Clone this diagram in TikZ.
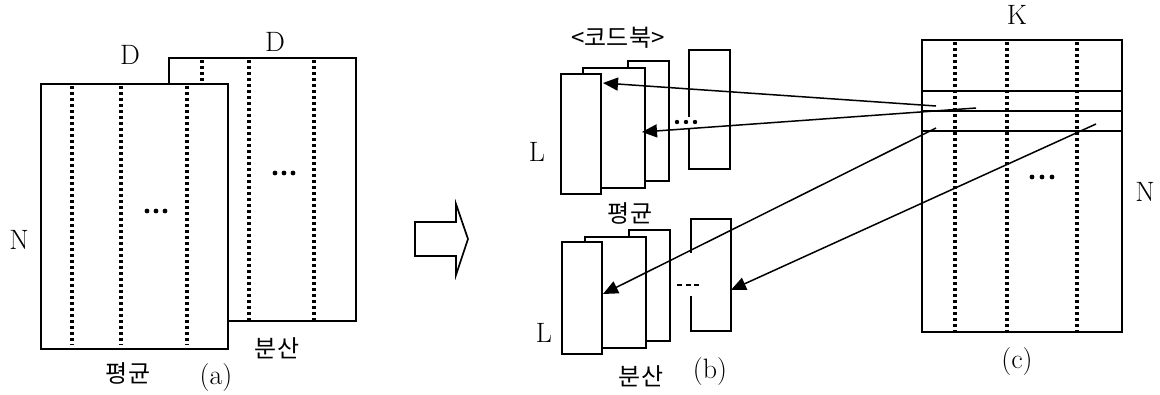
\documentclass[tikz,border=0pt]{standalone}
\usepackage{fontspec}
\newfontfamily\kr{Noto Sans CJK KR}
\usetikzlibrary{arrows.meta}
\tikzset{
  box/.style={draw, fill=white, line width=1.7pt, inner sep=0pt, outer sep=0pt, anchor=north west},
  dotline/.style={line width=3.2pt, dash pattern=on 3pt off 3pt},
  conn/.style={line width=1.5pt, -{Triangle[length=15pt,width=13pt]}},
  lbl/.style={inner sep=0pt, font=\fontsize{28}{32}\selectfont},
  krl/.style={inner sep=0pt, font=\fontsize{24}{28}\selectfont\kr},
  dotc/.style={fill=black, draw=none}
}
\begin{document}
\begin{tikzpicture}[x=1pt,y=-1pt]
\useasboundingbox (0,0) rectangle (1160,394);
% ---------- (a)
\node[box, minimum width=187pt, minimum height=263pt] (aback) at (169,58) {};
\foreach \x in {202,249,314} \draw[dotline] (\x,60) -- (\x,320);
\foreach \x in {275,284,293} \fill[dotc] (\x,173) circle (2.4pt);
\node[box, minimum width=187pt, minimum height=265pt] (afront) at (41,84) {};
\foreach \x in {72,121,187} \draw[dotline] (\x,86) -- (\x,345);
\foreach \x in {147,156,165} \fill[dotc] (\x,211) circle (2.4pt);
\node[lbl] (dfront) at (130,55) {D};
\node[lbl] (dback) at (275,42) {D};
\node[lbl] (na) at (19,240) {N};
\node[krl] (meana) at (128,373) {평균};
\node[krl] (vara) at (277,348) {분산};
\node[lbl] (capa) at (216,378) {(a)};
% ---------- hollow arrow
\draw[line width=1.7pt, line join=miter] (415,222) -- (456,222) -- (456,204) -- (468,239) -- (456,275) -- (456,256) -- (415,256) -- cycle;
% ---------- (b) upper
\node[box, minimum width=41pt, minimum height=120pt] (u3) at (628,61) {};
\node[box, minimum width=62pt, minimum height=120pt] (u2) at (583,68) {};
\node[box, minimum width=40pt, minimum height=120pt] (u1) at (561,74) {};
\draw[line width=1.7pt] (689,117) -- (689,50) -- (730,50) -- (730,169) -- (689,169) -- (689,129);
\foreach \x in {677,686,695} \fill[dotc] (\x,122) circle (2.2pt);
\node[krl] (cb) at (618,38) {<코드북>};
\node[lbl] (lu) at (537,152) {L};
\node[krl] (meanb) at (630,213) {평균};
% ---------- (b) lower
\node[box, minimum width=41pt, minimum height=111pt] (d3) at (629,230) {};
\node[box, minimum width=61pt, minimum height=111pt] (d2) at (585,237) {};
\node[box, minimum width=40pt, minimum height=112pt] (d1) at (562,242) {};
\draw[line width=1.7pt] (691,253) -- (691,219) -- (731,219) -- (731,331) -- (691,331) -- (691,296);
\draw[line width=2.2pt, dash pattern=on 5pt off 3.5pt] (677,285) -- (700,285);
\node[lbl] (ld) at (544,333) {L};
\node[krl] (varb) at (641,376) {분산};
\node[lbl] (capb) at (710,372) {(b)};
% ---------- (c)
\node[box, minimum width=200pt, minimum height=292pt] (cm) at (922,40) {};
\foreach \y in {91,111,131} \draw[line width=1.7pt] (922,\y) -- (1122,\y);
\foreach \x in {955,1007,1077} \draw[dotline] (\x,42) -- (\x,331);
\foreach \x in {1032,1042,1052} \fill[dotc] (\x,177) circle (2.4pt);
\node[lbl] (kc) at (1017,15) {K};
\node[lbl] (nc) at (1145,192) {N};
\node[lbl] (capc) at (1017,362) {(c)};
% ---------- connectors
\coordinate (s1) at (936,106);
\coordinate (t1) at (603,83);
\coordinate (s2) at (976,108);
\coordinate (t2) at (642,132);
\coordinate (s3) at (936,128);
\coordinate (t3) at (603,294);
\coordinate (s4) at (1096,124);
\coordinate (t4) at (731,290);
\draw[conn] (s1) -- (t1);
\draw[conn] (s2) -- (t2);
\draw[conn] (s3) -- (t3);
\draw[conn] (s4) -- (t4);
\end{tikzpicture}
\end{document}
